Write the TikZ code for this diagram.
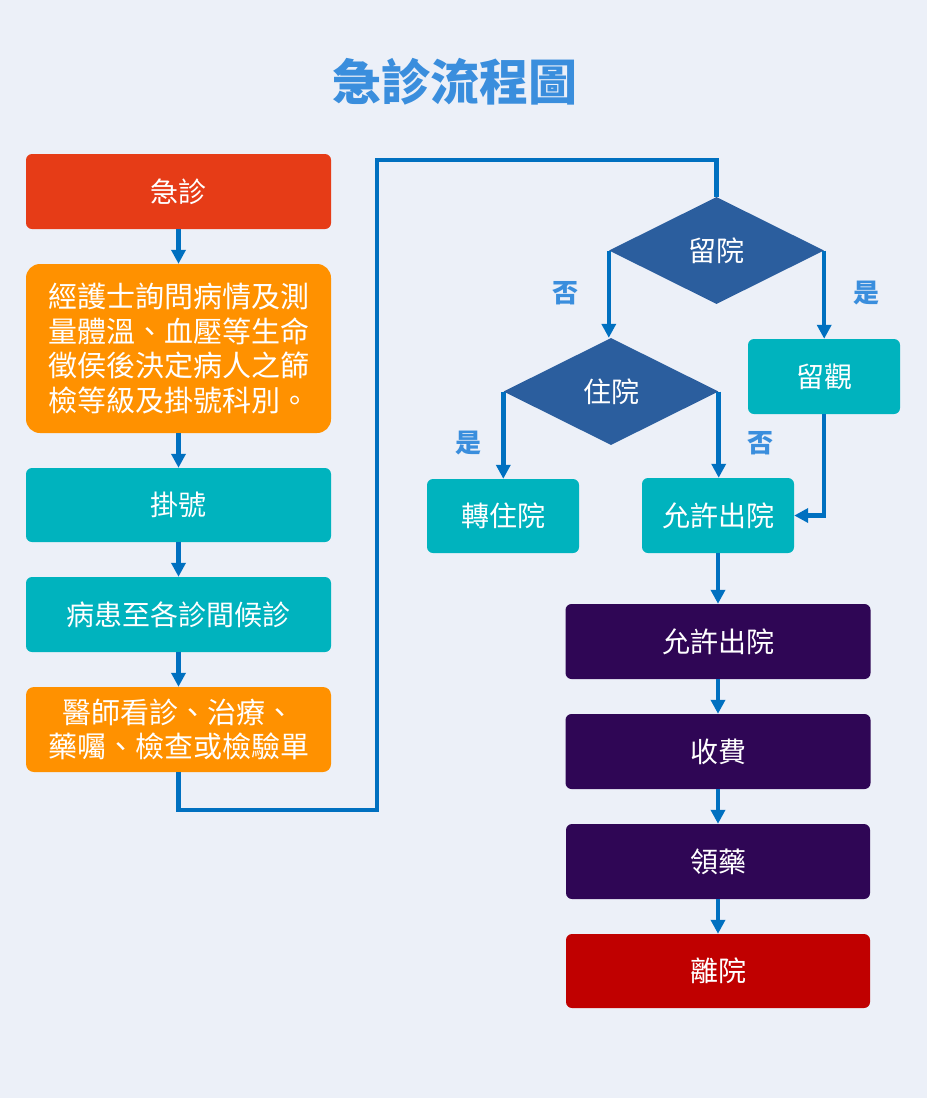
\documentclass[tikz,border=0pt]{standalone}
\usepackage{fontspec}
\setmainfont{Noto Sans CJK TC}
\usepackage{tikz}
\usetikzlibrary{arrows.meta, shapes.geometric}
\definecolor{pagebg}{HTML}{ECF0F8}
\definecolor{erred}{HTML}{E63C17}
\definecolor{careorange}{HTML}{FF9100}
\definecolor{stepteal}{HTML}{00B3BE}
\definecolor{askblue}{HTML}{2B5E9E}
\definecolor{exitpurple}{HTML}{2F0655}
\definecolor{leavered}{HTML}{C00000}
\definecolor{flowblue}{HTML}{0070C0}
\definecolor{labelblue}{HTML}{3A8EDD}

\begin{document}
\begin{tikzpicture}[x=1pt,y=-1pt,
  box/.style={rounded corners=6pt,text=white,minimum width=305pt,minimum height=75pt,
    inner sep=0pt,align=center,font=\fontsize{28}{34}\selectfont},
  halfbox/.style={box,minimum width=152pt},
  longtext/.style={font=\fontsize{29}{34.5}\selectfont},
  choice/.style={diamond,fill=askblue,text=white,minimum width=215pt,minimum height=107pt,
    inner sep=0pt,aspect=2,font=\fontsize{28}{34}\selectfont},
  link/.style={line width=4.5pt,draw=flowblue},
  flow/.style={link,-{Triangle[length=14pt,width=14pt]}},
  yesno/.style={text=labelblue,font=\bfseries\fontsize{26}{26}\selectfont}]
  \fill[pagebg] (0,0) rectangle (927,1098);
  \useasboundingbox (0,0) rectangle (927,1098);
  \node[text=labelblue,font=\bfseries\fontsize{49}{49}\selectfont] (title) at (455,82) {急診流程圖};
  % left column
  \node[box,fill=erred] (er) at (178.5,191.5) {急診};
  \node[box,longtext,fill=careorange,minimum height=169pt,rounded corners=14pt] (triage) at (178.5,348.5)
    {經護士詢問病情及測\\量體溫、血壓等生命\\徵侯後決定病人之篩\\檢等級及掛號科別。};
  \node[box,fill=stepteal,minimum height=74pt] (reg) at (178.5,505) {掛號};
  \node[box,fill=stepteal] (wait) at (178.5,614.5) {病患至各診間候診};
  \node[box,longtext,fill=careorange,minimum height=85pt,rounded corners=8pt] (doctor) at (178.5,729.5)
    {醫師看診、治療、\\藥囑、檢查或檢驗單};
  \draw[flow] (er) -- (triage);
  \draw[flow] (triage) -- (reg);
  \draw[flow] (reg) -- (wait);
  \draw[flow] (wait) -- (doctor);
  % decisions
  \node[choice] (stay) at (716.5,250.5) {留院};
  \node[choice] (hosp) at (611,391.5) {住院};
  \node[halfbox,fill=stepteal] (obs) at (824,376.5) {留觀};
  \node[halfbox,fill=stepteal,minimum height=74pt] (transfer) at (503,516) {轉住院};
  \node[halfbox,fill=stepteal] (allow) at (718,515.5) {允許出院};
  \coordinate (loopA) at (377,810);
  \coordinate (loopB) at (377,160);
  \draw[link] (doctor.south) |- (loopA) -- (loopB) -| (stay.north);
  \draw[flow] (stay.west) -- (stay.west |- hosp.north);
  \draw[flow] (stay.east) -- (stay.east |- obs.north);
  \draw[flow] (hosp.west) -- (hosp.west |- transfer.north);
  \draw[flow] (hosp.east) -- (hosp.east |- allow.north);
  \draw[flow] (obs.south) |- (allow.east);
  \node[yesno] (no1) at (565,293) {否};
  \node[yesno] (yes1) at (866,293) {是};
  \node[yesno] (yes2) at (468,443) {是};
  \node[yesno] (no2) at (760,443) {否};
  % discharge
  \node[box,fill=exitpurple] (out) at (718,641.5) {允許出院};
  \node[box,fill=exitpurple] (pay) at (718,751.5) {收費};
  \node[box,fill=exitpurple,minimum width=304pt] (drugs) at (718,861.5) {領藥};
  \node[box,fill=leavered,minimum width=304pt,minimum height=74pt] (leave) at (718,971) {離院};
  \draw[flow] (allow) -- (out);
  \draw[flow] (out) -- (pay);
  \draw[flow] (pay) -- (drugs);
  \draw[flow] (drugs) -- (leave);
\end{tikzpicture}
\end{document}
